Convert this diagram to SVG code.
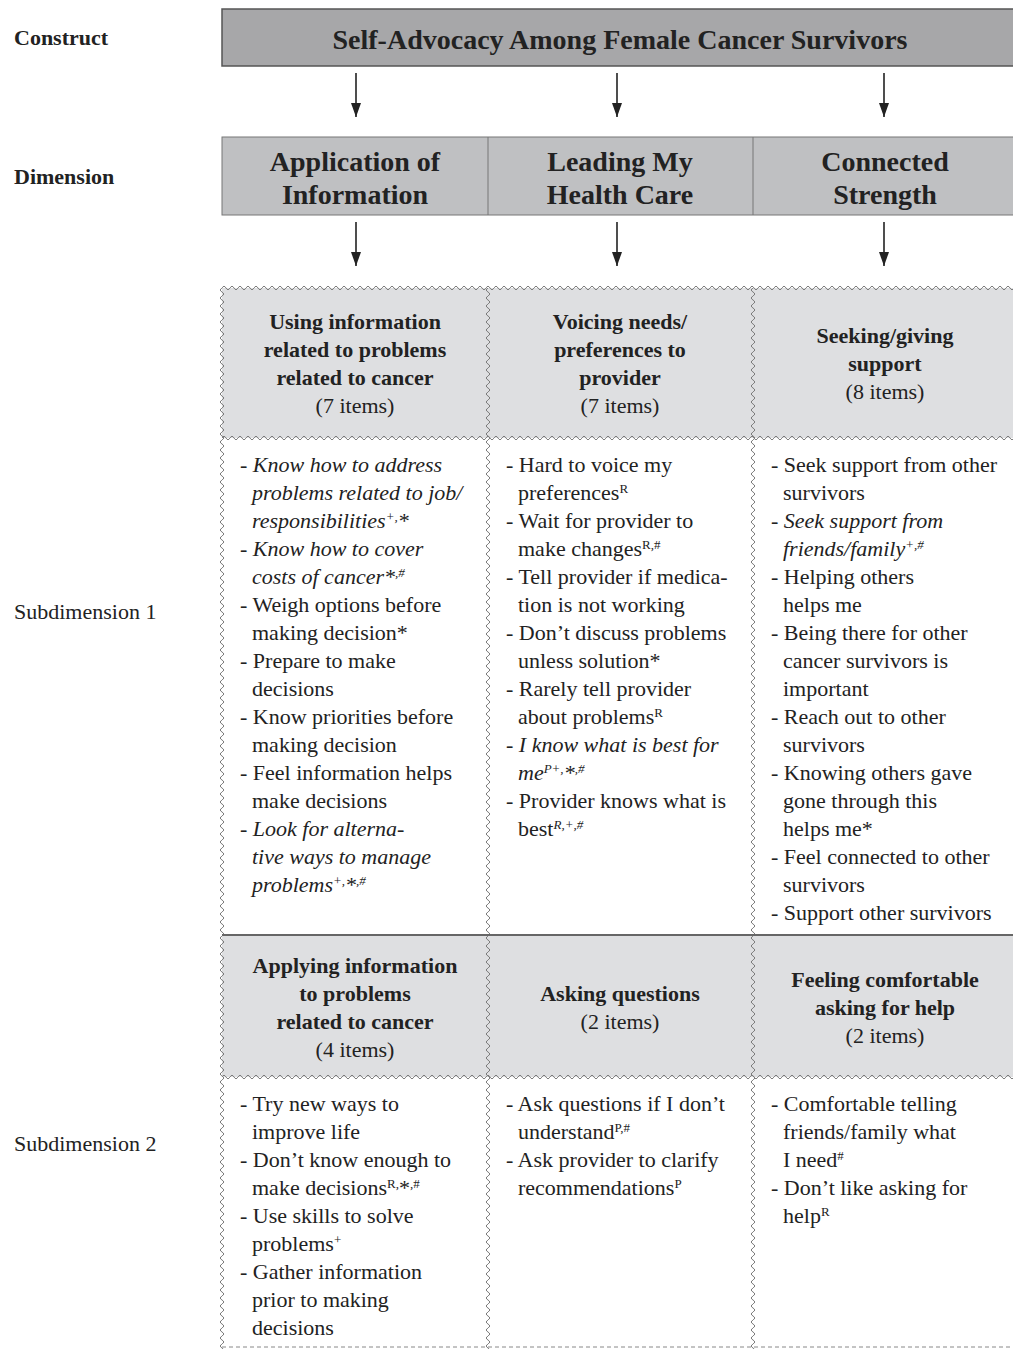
<svg xmlns="http://www.w3.org/2000/svg" width="1013" height="1349" viewBox="0 0 1013 1349">
<style>
text{font-family:"Liberation Serif","Times New Roman",serif;fill:#222;font-size:22px}
.b{font-weight:bold}
.dim{font-weight:bold;font-size:28px}
.c{text-anchor:middle}
.i{font-style:italic}
.s{font-size:13px;baseline-shift:super}
.arr{stroke:#222;stroke-width:1.6;fill:none}
</style>
<defs>
<pattern id="wh" x="0" y="0" width="8" height="8" patternUnits="userSpaceOnUse">
<path d="M0,4 Q2,0.6 4,4 T8,4" stroke="#7a7a7a" stroke-width="1" fill="none"/>
</pattern>
<pattern id="wv" x="0" y="0" width="8" height="8" patternUnits="userSpaceOnUse">
<path d="M4,0 Q0.6,2 4,4 T4,8" stroke="#7a7a7a" stroke-width="1" fill="none"/>
</pattern>
<marker id="ah" markerWidth="14" markerHeight="10" refX="14" refY="5" orient="auto" markerUnits="userSpaceOnUse" viewBox="0 0 14 10">
<path d="M0,0 L14,5 L0,10 Z" fill="#222"/>
</marker>
</defs>
<rect width="1013" height="1349" fill="#fff"/>

<g id="labels">
<text class="b" x="14" y="45">Construct</text>
<text class="b" x="14" y="184">Dimension</text>
<text x="14" y="619">Subdimension 1</text>
<text x="14" y="1151">Subdimension 2</text>
</g>

<g id="construct">
<rect x="222" y="9" width="793" height="57" fill="#a7a7a9" stroke="#555" stroke-width="1.5"/>
<text class="dim c" x="620" y="49">Self-Advocacy Among Female Cancer Survivors</text>
</g>

<g id="dimensions">
<rect x="222" y="137" width="793" height="78" fill="#bfc0c2" stroke="#777" stroke-width="1"/>
<line x1="488" y1="137" x2="488" y2="215" stroke="#777"/>
<line x1="753" y1="137" x2="753" y2="215" stroke="#777"/>
<g id="dim-application"><text class="dim c" x="355" y="171">Application of</text><text class="dim c" x="355" y="204">Information</text></g>
<g id="dim-leading"><text class="dim c" x="620" y="171">Leading My</text><text class="dim c" x="620" y="204">Health Care</text></g>
<g id="dim-connected"><text class="dim c" x="885" y="171">Connected</text><text class="dim c" x="885" y="204">Strength</text></g>
</g>

<g id="connectors">
<line class="arr" x1="356" y1="73" x2="356" y2="117" marker-end="url(#ah)"/>
<line class="arr" x1="617" y1="73" x2="617" y2="117" marker-end="url(#ah)"/>
<line class="arr" x1="884" y1="73" x2="884" y2="117" marker-end="url(#ah)"/>
<line class="arr" x1="356" y1="222" x2="356" y2="266" marker-end="url(#ah)"/>
<line class="arr" x1="617" y1="222" x2="617" y2="266" marker-end="url(#ah)"/>
<line class="arr" x1="884" y1="222" x2="884" y2="266" marker-end="url(#ah)"/>
</g>

<g id="grid">
<rect x="222" y="288" width="791" height="150" fill="#dedfe1"/>
<rect x="222" y="935" width="791" height="142" fill="#dedfe1"/>
<rect transform="translate(222,284)" width="791" height="8" fill="url(#wh)"/>
<rect transform="translate(222,434)" width="791" height="8" fill="url(#wh)"/>
<rect transform="translate(222,1073)" width="791" height="8" fill="url(#wh)"/>
<rect transform="translate(218,288)" width="8" height="1061" fill="url(#wv)"/>
<rect transform="translate(484,288)" width="8" height="1061" fill="url(#wv)"/>
<rect transform="translate(749,288)" width="8" height="1061" fill="url(#wv)"/>
<line x1="222" y1="935" x2="1013" y2="935" stroke="#666" stroke-width="2"/>
<line x1="222" y1="1347" x2="1013" y2="1347" stroke="#888" stroke-width="1" stroke-dasharray="4 3"/>
</g>

<g id="sub1-application">
<text class="b c" x="355" y="329">Using information</text>
<text class="b c" x="355" y="357">related to problems</text>
<text class="b c" x="355" y="385">related to cancer</text>
<text class="c" x="355" y="413">(7 items)</text>
</g>
<g id="sub1-leading">
<text class="b c" x="620" y="329">Voicing needs/</text>
<text class="b c" x="620" y="357">preferences to</text>
<text class="b c" x="620" y="385">provider</text>
<text class="c" x="620" y="413">(7 items)</text>
</g>
<g id="sub1-connected">
<text class="b c" x="885" y="343">Seeking/giving</text>
<text class="b c" x="885" y="371">support</text>
<text class="c" x="885" y="399">(8 items)</text>
</g>

<g id="items1-application">
<text x="240" y="472">- <tspan class="i">Know how to address</tspan></text>
<text class="i" x="252" y="500">problems related to job/</text>
<text class="i" x="252" y="528">responsibilities<tspan class="s">+,</tspan>*</text>
<text x="240" y="556">- <tspan class="i">Know how to cover</tspan></text>
<text class="i" x="252" y="584">costs of cancer*<tspan class="s">,#</tspan></text>
<text x="240" y="612">- Weigh options before</text>
<text x="252" y="640">making decision*</text>
<text x="240" y="668">- Prepare to make</text>
<text x="252" y="696">decisions</text>
<text x="240" y="724">- Know priorities before</text>
<text x="252" y="752">making decision</text>
<text x="240" y="780">- Feel information helps</text>
<text x="252" y="808">make decisions</text>
<text x="240" y="836">- <tspan class="i">Look for alterna-</tspan></text>
<text class="i" x="252" y="864">tive ways to manage</text>
<text class="i" x="252" y="892">problems<tspan class="s">+,</tspan>*<tspan class="s">,#</tspan></text>
</g>

<g id="items1-leading">
<text x="506" y="472">- Hard to voice my</text>
<text x="518" y="500">preferences<tspan class="s">R</tspan></text>
<text x="506" y="528">- Wait for provider to</text>
<text x="518" y="556">make changes<tspan class="s">R,#</tspan></text>
<text x="506" y="584">- Tell provider if medica-</text>
<text x="518" y="612">tion is not working</text>
<text x="506" y="640">- Don’t discuss problems</text>
<text x="518" y="668">unless solution*</text>
<text x="506" y="696">- Rarely tell provider</text>
<text x="518" y="724">about problems<tspan class="s">R</tspan></text>
<text x="506" y="752">- <tspan class="i">I know what is best for</tspan></text>
<text class="i" x="518" y="780">me<tspan class="s">P+,</tspan>*<tspan class="s">,#</tspan></text>
<text x="506" y="808">- Provider knows what is</text>
<text x="518" y="836">best<tspan class="s i">R,+,#</tspan></text>
</g>

<g id="items1-connected">
<text x="771" y="472">- Seek support from other</text>
<text x="783" y="500">survivors</text>
<text x="771" y="528">- <tspan class="i">Seek support from</tspan></text>
<text class="i" x="783" y="556">friends/family<tspan class="s">+,#</tspan></text>
<text x="771" y="584">- Helping others</text>
<text x="783" y="612">helps me</text>
<text x="771" y="640">- Being there for other</text>
<text x="783" y="668">cancer survivors is</text>
<text x="783" y="696">important</text>
<text x="771" y="724">- Reach out to other</text>
<text x="783" y="752">survivors</text>
<text x="771" y="780">- Knowing others gave</text>
<text x="783" y="808">gone through this</text>
<text x="783" y="836">helps me*</text>
<text x="771" y="864">- Feel connected to other</text>
<text x="783" y="892">survivors</text>
<text x="771" y="920">- Support other survivors</text>
</g>

<g id="sub2-application">
<text class="b c" x="355" y="973">Applying information</text>
<text class="b c" x="355" y="1001">to problems</text>
<text class="b c" x="355" y="1029">related to cancer</text>
<text class="c" x="355" y="1057">(4 items)</text>
</g>
<g id="sub2-leading">
<text class="b c" x="620" y="1001">Asking questions</text>
<text class="c" x="620" y="1029">(2 items)</text>
</g>
<g id="sub2-connected">
<text class="b c" x="885" y="987">Feeling comfortable</text>
<text class="b c" x="885" y="1015">asking for help</text>
<text class="c" x="885" y="1043">(2 items)</text>
</g>

<g id="items2-application">
<text x="240" y="1111">- Try new ways to</text>
<text x="252" y="1139">improve life</text>
<text x="240" y="1167">- Don’t know enough to</text>
<text x="252" y="1195">make decisions<tspan class="s">R,</tspan>*<tspan class="s">,#</tspan></text>
<text x="240" y="1223">- Use skills to solve</text>
<text x="252" y="1251">problems<tspan class="s">+</tspan></text>
<text x="240" y="1279">- Gather information</text>
<text x="252" y="1307">prior to making</text>
<text x="252" y="1335">decisions</text>
</g>
<g id="items2-leading">
<text x="506" y="1111">- Ask questions if I don’t</text>
<text x="518" y="1139">understand<tspan class="s">P,#</tspan></text>
<text x="506" y="1167">- Ask provider to clarify</text>
<text x="518" y="1195">recommendations<tspan class="s">P</tspan></text>
</g>
<g id="items2-connected">
<text x="771" y="1111">- Comfortable telling</text>
<text x="783" y="1139">friends/family what</text>
<text x="783" y="1167">I need<tspan class="s">#</tspan></text>
<text x="771" y="1195">- Don’t like asking for</text>
<text x="783" y="1223">help<tspan class="s">R</tspan></text>
</g>
</svg>
